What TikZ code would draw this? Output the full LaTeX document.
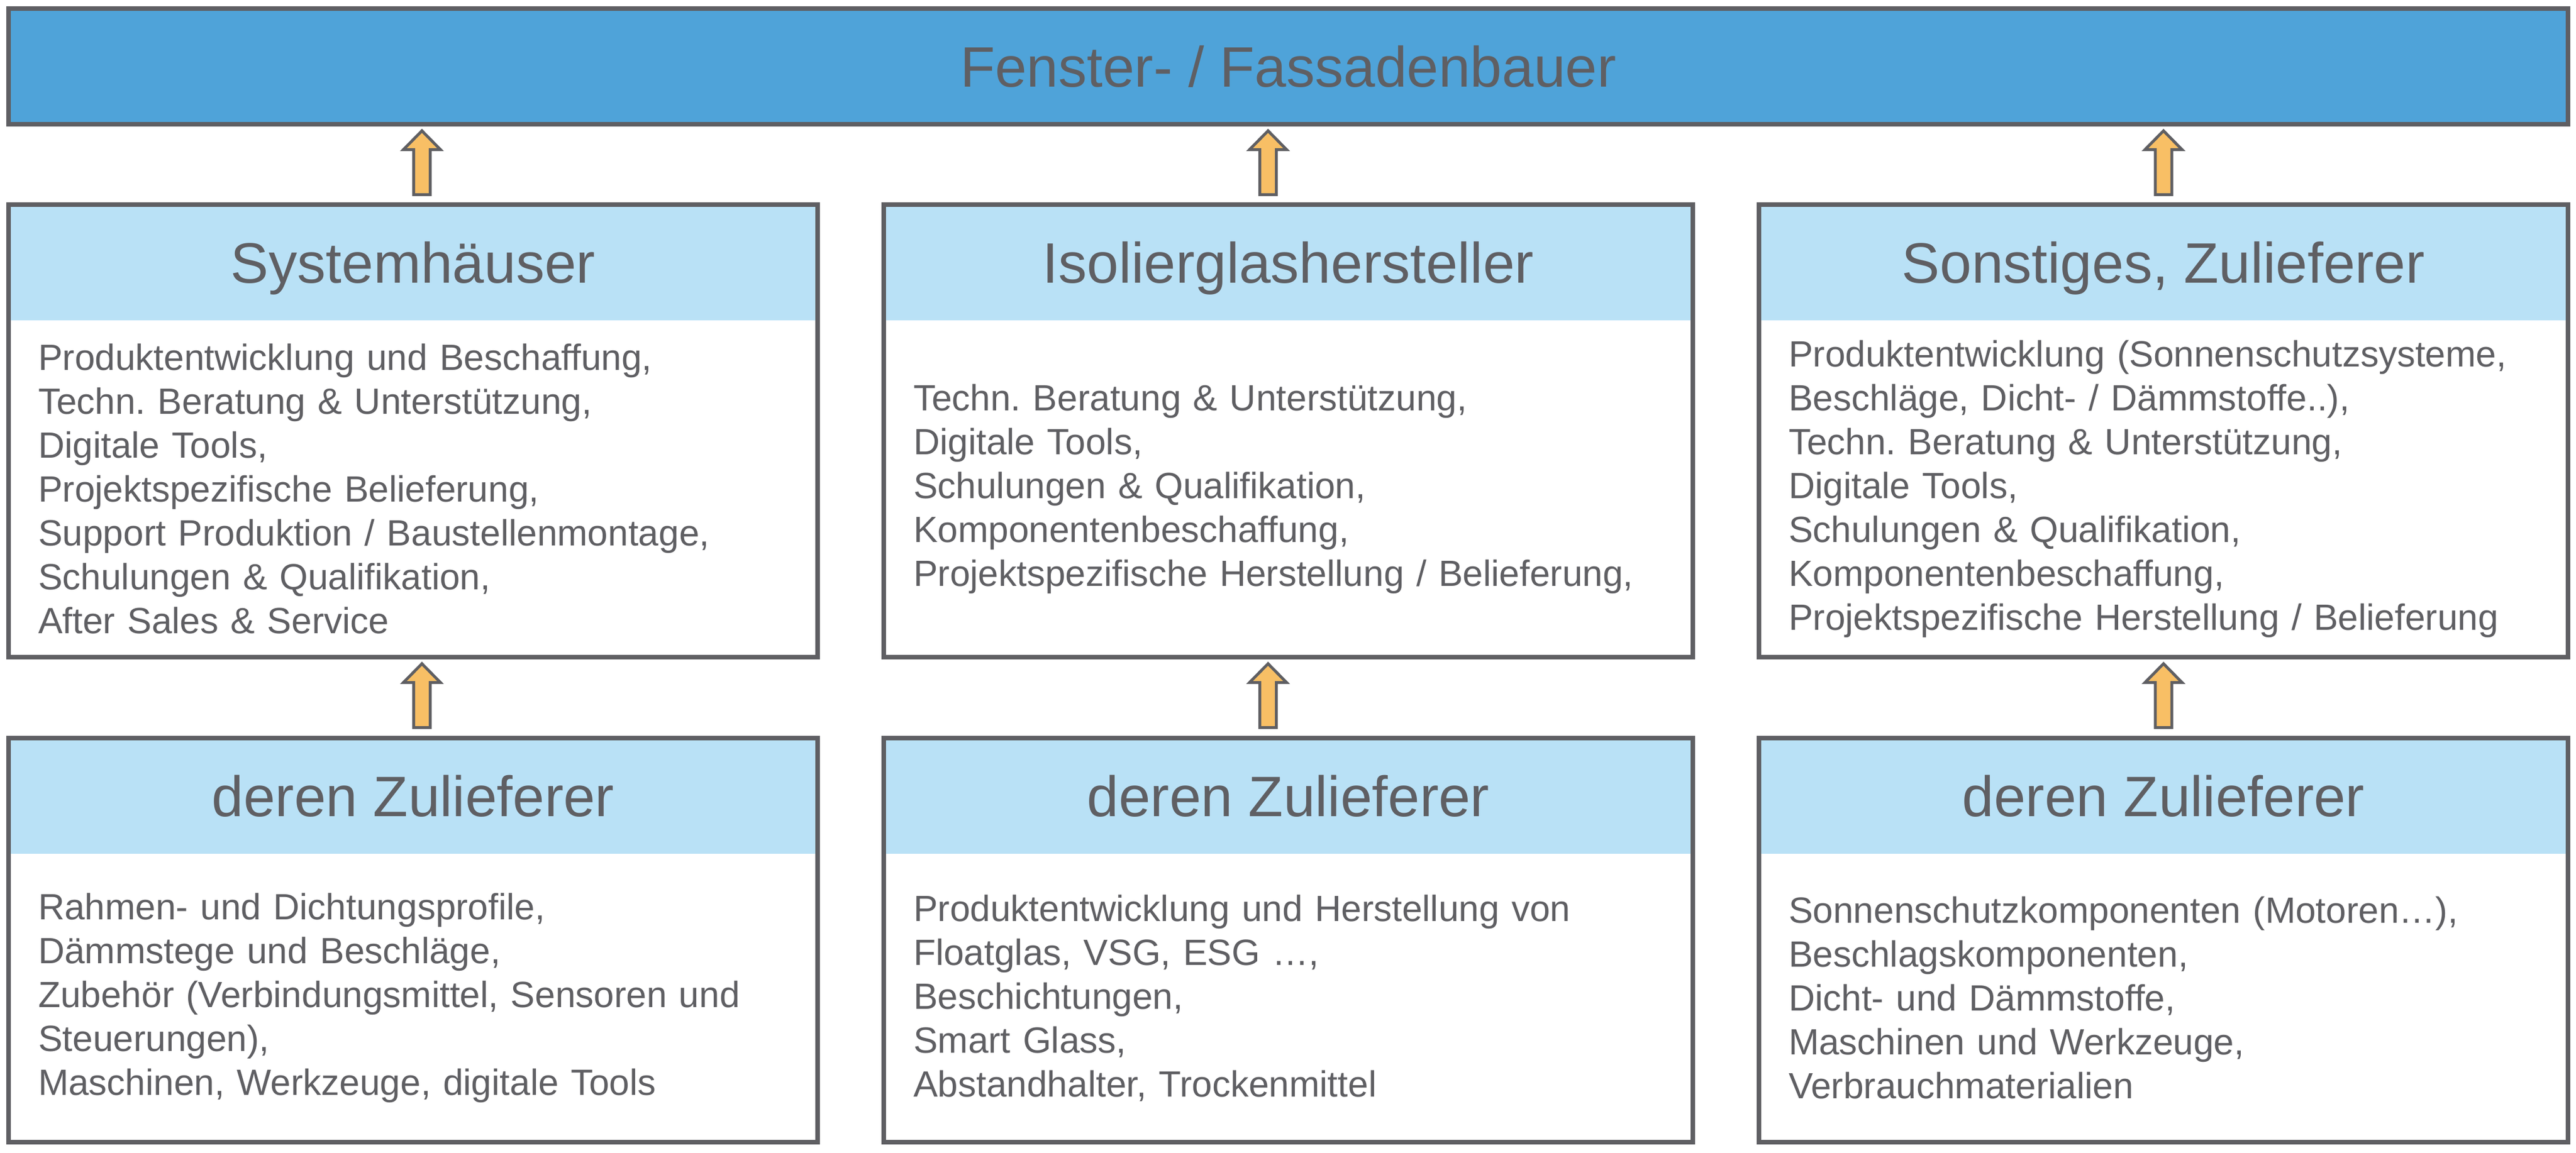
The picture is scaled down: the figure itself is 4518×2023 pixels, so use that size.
\documentclass[tikz,border=0pt]{standalone}
\usepackage{fontspec}
\setmainfont{Liberation Sans}
\usetikzlibrary{positioning}
\frenchspacing

\definecolor{fbblue}{RGB}{79,163,217}
\definecolor{headblue}{RGB}{185,225,246}
\definecolor{framegray}{RGB}{95,95,99}
\definecolor{arrowfill}{RGB}{248,191,101}

\tikzset{
topbar/.style={fill=fbblue, draw=framegray, line width=8pt, outer sep=0pt, inner sep=0pt,
  minimum width=4489pt, minimum height=203pt, text=framegray,
  font=\fontsize{100}{120}\selectfont, text height=72pt, text depth=0pt},
head/.style={fill=headblue, outer sep=0pt, inner sep=0pt, minimum width=1419pt,
  minimum height=203pt, text=framegray,
  font=\fontsize{100}{120}\selectfont, text height=72pt, text depth=0pt},
body/.style={outer sep=0pt, inner xsep=52pt, inner ysep=0pt, text width=1315pt,
  align=left, text=framegray, font=\fontsize{64}{77}\selectfont},
frame/.style={draw=framegray, line width=8pt},
arrowline/.style={draw=framegray, fill=arrowfill, line width=5pt},
uparr/.pic={
  \draw[arrowline] (-14.5pt,0) -- (-14.5pt,79pt) -- (-32.5pt,79pt) -- (0,112pt)
    -- (32.5pt,79pt) -- (14.5pt,79pt) -- (14.5pt,0) -- cycle;
}
}

\begin{document}
\begin{tikzpicture}
\useasboundingbox (0,0) rectangle (4518pt,-2023pt);

\node[topbar, anchor=north west] (fb) at (15pt,-15pt) {Fenster- / Fassadenbauer};

% obere Reihe
\node[head, below=141pt of fb.south west, anchor=north west] (sys) {Systemhäuser};
\node[head, right=116pt of sys] (isg) {Isolierglashersteller};
\node[head, right=116pt of isg] (son) {Sonstiges, Zulieferer};

\node[body, minimum height=591pt, below=0pt of sys] (sysb) {Produktentwicklung und Beschaffung,\\
Techn. Beratung \& Unterstützung,\\
Digitale Tools,\\
Projektspezifische Belieferung,\\
Support Produktion / Baustellenmontage,\\
Schulungen \& Qualifikation,\\
After Sales \& Service};
\node[body, minimum height=591pt, below=0pt of isg] (isgb) {Techn. Beratung \& Unterstützung,\\
Digitale Tools,\\
Schulungen \& Qualifikation,\\
Komponentenbeschaffung,\\
Projektspezifische Herstellung / Belieferung,};
\node[body, minimum height=591pt, below=0pt of son] (sonb) {Produktentwicklung (Sonnenschutzsysteme,\\
Beschläge, Dicht- / Dämmstoffe..),\\
Techn. Beratung \& Unterstützung,\\
Digitale Tools,\\
Schulungen \& Qualifikation,\\
Komponentenbeschaffung,\\
Projektspezifische Herstellung / Belieferung};

% untere Reihe
\node[head, below=142pt of sysb] (sysz) {deren Zulieferer};
\node[head, below=142pt of isgb] (isgz) {deren Zulieferer};
\node[head, below=142pt of sonb] (sonz) {deren Zulieferer};

\node[body, minimum height=506pt, below=0pt of sysz] (syszb) {Rahmen- und Dichtungsprofile,\\
Dämmstege und Beschläge,\\
Zubehör (Verbindungsmittel, Sensoren und\\
Steuerungen),\\
Maschinen, Werkzeuge, digitale Tools};
\node[body, minimum height=506pt, below=0pt of isgz] (isgzb) {Produktentwicklung und Herstellung von\\
Floatglas, VSG, ESG …,\\
Beschichtungen,\\
Smart Glass,\\
Abstandhalter, Trockenmittel};
\node[body, minimum height=506pt, below=0pt of sonz] (sonzb) {Sonnenschutzkomponenten (Motoren…),\\
Beschlagskomponenten,\\
Dicht- und Dämmstoffe,\\
Maschinen und Werkzeuge,\\
Verbrauchmaterialien};

\foreach \h/\b in {sys/sysb, isg/isgb, son/sonb, sysz/syszb, isgz/isgzb, sonz/sonzb}
  \draw[frame] (\h.north west) rectangle (\b.south east);

% Pfeile
\pic at ([xshift=15.5pt, yshift=17.5pt]sys.north) {uparr};
\pic at ([xshift=-35.5pt, yshift=17.5pt]isg.north) {uparr};
\pic at ([yshift=17.5pt]son.north) {uparr};
\pic at ([xshift=15.5pt, yshift=18.5pt]sysz.north) {uparr};
\pic at ([xshift=-35.5pt, yshift=18.5pt]isgz.north) {uparr};
\pic at ([yshift=18.5pt]sonz.north) {uparr};
\end{tikzpicture}
\end{document}
